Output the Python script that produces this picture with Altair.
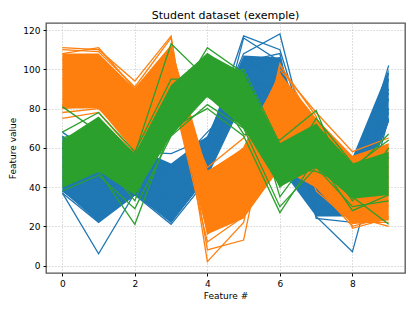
import altair as alt
import pandas as pd

features = [0, 1, 2, 3, 4, 5, 6, 7, 8, 9]

# dense core band of each class (low / high value per feature)
blue_lo = [38, 22, 36, 22, 45, 84, 50, 25, 25, 73]
blue_hi = [66, 57, 60, 52, 66, 107, 106, 50, 55, 100]
orange_lo = [80, 80, 58, 88, 16, 24, 50, 40, 21, 23]
orange_hi = [108, 108, 90, 112, 48, 60, 98, 75, 56, 62]
green_lo = [40, 48, 36, 66, 86, 70, 40, 50, 34, 36]
green_hi = [64, 76, 57, 92, 108, 98, 62, 72, 52, 58]

# individual lines (edges and outliers)
blue_lines = [
    [37, 6, 37, 22, 46, 104, 108, 25, 7, 75],
    [37, 22, 36, 21, 44, 116, 104, 24, 22, 80],
    [68, 55, 58, 57, 65, 108, 118, 45, 40, 102],
    [66, 50, 60, 50, 62, 117, 110, 50, 45, 95],
    [38, 25, 40, 24, 50, 100, 106, 26, 26, 85],
    [60, 45, 55, 48, 68, 86, 100, 40, 50, 90],
    [50, 35, 50, 30, 55, 95, 90, 35, 30, 78],
    [45, 30, 45, 26, 48, 92, 85, 30, 28, 74],
    [62, 52, 57, 45, 60, 105, 95, 48, 53, 98],
    [55, 40, 42, 35, 52, 102, 80, 28, 35, 88],
]
orange_lines = [
    [111, 110, 94, 117, 2, 22, 103, 70, 25, 20],
    [110, 109, 91, 116, 8, 13, 102, 76, 19, 24],
    [75, 78, 57, 90, 12, 25, 50, 40, 20, 25],
    [108, 111, 90, 112, 16, 30, 100, 78, 58, 65],
    [80, 82, 60, 92, 50, 65, 95, 60, 55, 62],
    [78, 80, 62, 95, 45, 60, 98, 38, 22, 22],
    [95, 100, 80, 105, 30, 45, 85, 55, 40, 45],
    [105, 107, 88, 110, 20, 35, 92, 65, 30, 40],
    [85, 85, 65, 100, 40, 55, 70, 50, 45, 55],
    [100, 95, 75, 108, 25, 40, 75, 72, 50, 30],
    [82, 84, 68, 94, 48, 58, 60, 45, 35, 60],
]
green_lines = [
    [81, 68, 57, 113, 95, 67, 64, 79, 35, 21],
    [68, 78, 58, 95, 95, 100, 62, 72, 48, 67],
    [40, 48, 21, 70, 80, 66, 27, 55, 28, 36],
    [38, 46, 29, 66, 82, 70, 30, 50, 30, 33],
    [62, 56, 33, 80, 111, 98, 35, 60, 33, 60],
    [55, 75, 45, 90, 108, 95, 45, 75, 52, 45],
    [45, 55, 40, 75, 90, 80, 50, 48, 40, 55],
    [65, 70, 50, 85, 100, 90, 55, 65, 45, 50],
    [50, 60, 38, 72, 105, 85, 40, 58, 38, 40],
    [60, 65, 55, 88, 86, 75, 60, 68, 50, 64],
]

colors = {"blue": "#1f77b4", "orange": "#ff7f0e", "green": "#2ca02c"}

xscale = alt.Scale(domain=[-0.45, 9.45], nice=False, zero=False)
yscale = alt.Scale(domain=[-3.8, 123.6], nice=False, zero=False)
xaxis = alt.Axis(values=[0, 2, 4, 6, 8], title="Feature #", format="d")
yaxis = alt.Axis(values=[0, 20, 40, 60, 80, 100, 120], title="Feature value")


def band(lo, hi, color):
    df = pd.DataFrame({"f": features, "lo": lo, "hi": hi})
    return alt.Chart(df).mark_area(color=color, opacity=1, interpolate="linear").encode(
        x=alt.X("f:Q", scale=xscale, axis=xaxis),
        y=alt.Y("lo:Q", scale=yscale, axis=yaxis),
        y2="hi:Q",
    )


def lines(rows, color):
    recs = []
    for i, r in enumerate(rows):
        for f, v in zip(features, r):
            recs.append({"f": f, "v": v, "id": i})
    df = pd.DataFrame(recs)
    return alt.Chart(df).mark_line(color=color, strokeWidth=1.3).encode(
        x=alt.X("f:Q", scale=xscale, axis=xaxis),
        y=alt.Y("v:Q", scale=yscale, axis=yaxis),
        detail="id:N",
    )


chart = alt.layer(
    band(blue_lo, blue_hi, colors["blue"]),
    lines(blue_lines, colors["blue"]),
    band(orange_lo, orange_hi, colors["orange"]),
    lines(orange_lines, colors["orange"]),
    band(green_lo, green_hi, colors["green"]),
    lines(green_lines, colors["green"]),
).properties(
    width=359,
    height=250,
    title=alt.TitleParams("Student dataset (exemple)", fontSize=11, fontWeight="normal",
                          font="DejaVu Sans", color="black", offset=2),
    padding={"left": 38, "top": 15, "right": 2, "bottom": 30},
    autosize=alt.AutoSizeParams(type="none"),
).configure_view(
    stroke="#555555", strokeWidth=1.3
).configure_axis(
    domain=False,
    grid=True,
    gridColor="#b0b0b0",
    gridDash=[1, 2],
    gridWidth=0.8,
    tickColor="black",
    tickSize=3,
    labelFont="DejaVu Sans",
    labelFontSize=9,
    labelColor="black",
    titleFont="DejaVu Sans",
    titleFontSize=9,
    titleFontWeight="normal",
    titleColor="black",
    labelPadding=3,
).configure_axisY(
    titlePadding=5
).configure_axisX(
    titlePadding=3
)

chart.save("out.html", embed_options={"renderer": "svg", "actions": False})
